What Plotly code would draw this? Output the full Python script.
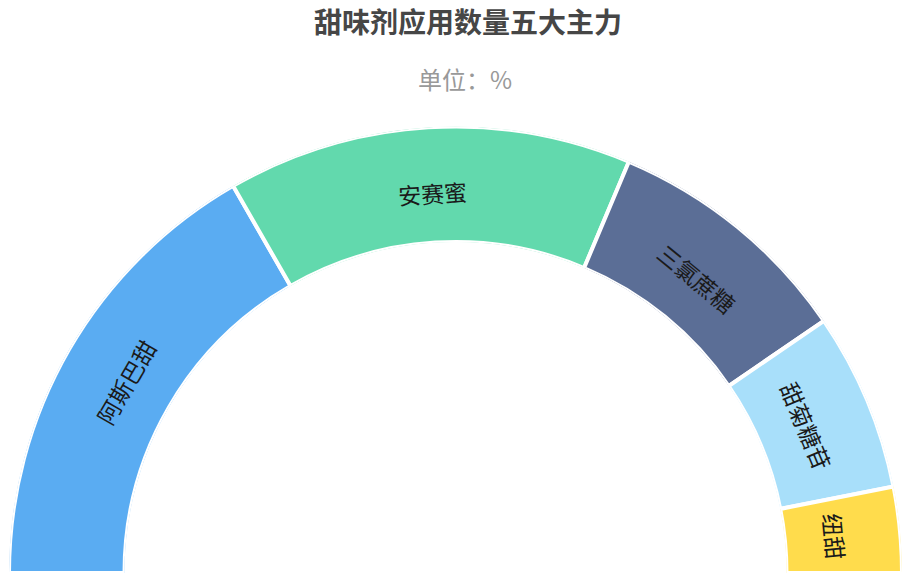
import plotly.graph_objects as go
import math

# 甜味剂 shares (%)
names = ["阿斯巴甜", "安赛蜜", "三氯蔗糖", "甜菊糖苷", "纽甜"]
shares = [33.4, 29.3, 18.2, 12.9, 6.2]
colors = ["#5AACF2", "#62D9AD", "#5B6E96", "#A8DFFA", "#FFDC4C"]

title_text = "甜味剂应用数量五大主力"
unit_text = "单位：%"

W, H = 912, 585
# geometry of the half ring in pixels
cx, cy = 455.5, 12          # centre, cy measured from bottom
r_out, r_in = 446.5, 331    # drawn radii (white outline eats ~2px)
r_text = 381

# half circle = 100%, so 1% = 1.8 degrees
spans = [v * 1.8 for v in shares]
centers = []
acc = 0
for s in spans:
    centers.append(acc + s / 2)
    acc += s

fig = go.Figure()
fig.add_trace(go.Barpolar(
    r=[1] * len(names),
    theta=centers,
    width=spans,
    marker=dict(color=colors, line=dict(color="white", width=4)),
    text=names,
    hoverinfo="text",
))

# labels, tangential to the ring
annotations = []
for name, c in zip(names, centers):
    phi = 180 - c
    x = (cx + r_text * math.cos(math.radians(phi))) / W
    y = (cy + r_text * math.sin(math.radians(phi))) / H
    annotations.append(dict(
        text=name, x=x, y=y, xref="paper", yref="paper",
        xanchor="center", yanchor="middle", showarrow=False,
        textangle=90 - phi,
        font=dict(size=23, color="#1a1a1a", family="Noto Sans CJK SC"),
    ))

annotations.append(dict(
    text=unit_text, x=465 / W, y=1 - 79 / H, xref="paper", yref="paper",
    xanchor="center", yanchor="middle", showarrow=False,
    font=dict(size=24, color="#999999", family="Noto Sans CJK SC"),
))

fig.update_layout(
    width=W, height=H,
    margin=dict(l=0, r=0, t=0, b=0),
    paper_bgcolor="white",
    showlegend=False,
    title=dict(
        text="<b>" + title_text + "</b>",
        x=468 / W, y=1 - 23 / H, xanchor="center", yanchor="middle",
        font=dict(size=28, color="#464646", family="Noto Sans CJK SC"),
    ),
    polar=dict(
        domain=dict(x=[(cx - r_out) / W, (cx + r_out) / W],
                    y=[cy / H, (cy + r_out) / H]),
        sector=[0, 180],
        hole=r_in / r_out,
        bgcolor="white",
        radialaxis=dict(visible=False, range=[0, 1]),
        angularaxis=dict(visible=False, rotation=180, direction="clockwise",
                         showgrid=False),
    ),
    annotations=annotations,
)

# drop the default 8px body margin so the figure fills the window exactly
fig.write_html("out.html", config={"displayModeBar": False},
               post_script="document.body.style.margin='0';")
